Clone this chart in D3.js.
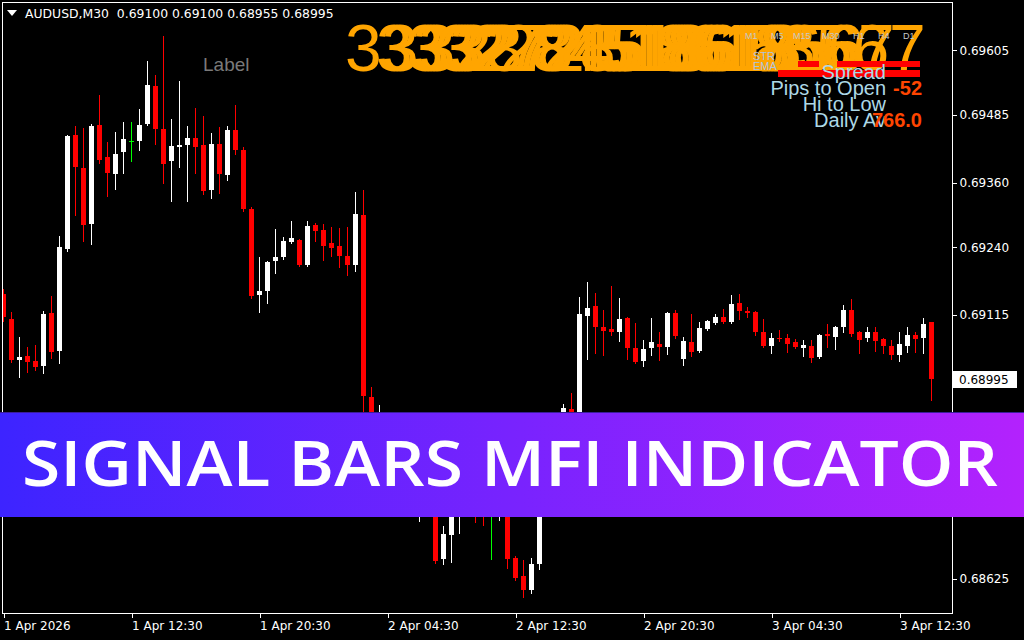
<!DOCTYPE html>
<html>
<head>
<meta charset="utf-8">
<script src="https://cdn.jsdelivr.net/npm/d3@7"></script>
<style>
  html, body { margin: 0; padding: 0; background: #000; }
  svg { display: block; }
</style>
</head>
<body>
<svg id="chart" width="1024" height="640"></svg>
<script>
// AUDUSD M30 bars, one entry per bar from left to right
var opens = [0.69153, 0.69106, 0.69030, 0.69038, 0.69028, 0.69019, 0.69117, 0.69047, 0.69236, 0.69447,
  0.69386, 0.69282, 0.69466, 0.69407, 0.69375, 0.69416, 0.69436, 0.69436, 0.69468, 0.69538,
  0.69458, 0.69399, 0.69425, 0.69429, 0.69442, 0.69429, 0.69345, 0.69431, 0.69373, 0.69457,
  0.69420, 0.69310, 0.69151, 0.69158, 0.69214, 0.69221, 0.69249, 0.69253, 0.69206, 0.69281,
  0.69271, 0.69247, 0.69242, 0.69223, 0.69206, 0.69299, 0.68962, 0.68867, 0.68919, 0.68841,
  0.68793, 0.68826, 0.68748, 0.68780, 0.68752, 0.68661, 0.68706, 0.68752, 0.68808, 0.68785,
  0.68771, 0.68761, 0.68761, 0.68785, 0.68663, 0.68630, 0.68604, 0.68652, 0.68826, 0.68793,
  0.68910, 0.68939, 0.68923, 0.69112, 0.69130, 0.69091, 0.69088, 0.69082, 0.69108, 0.69052,
  0.69028, 0.69052, 0.69060, 0.69054, 0.69117, 0.69032, 0.69064, 0.69047, 0.69088, 0.69099,
  0.69110, 0.69101, 0.69136, 0.69121, 0.69119, 0.69082, 0.69056, 0.69071, 0.69071, 0.69064,
  0.69052, 0.69056, 0.69036, 0.69078, 0.69073, 0.69091, 0.69123, 0.69082, 0.69071, 0.69082,
  0.69069, 0.69056, 0.69039, 0.69056, 0.69077, 0.69071, 0.69100]
var highs = [0.69162, 0.69119, 0.69073, 0.69054, 0.69058, 0.69121, 0.69149, 0.69260, 0.69447, 0.69464,
  0.69460, 0.69468, 0.69522, 0.69434, 0.69453, 0.69472, 0.69472, 0.69496, 0.69585, 0.69559,
  0.69631, 0.69477, 0.69548, 0.69464, 0.69497, 0.69483, 0.69451, 0.69462, 0.69464, 0.69503,
  0.69425, 0.69314, 0.69221, 0.69214, 0.69273, 0.69258, 0.69288, 0.69255, 0.69288, 0.69284,
  0.69282, 0.69277, 0.69275, 0.69277, 0.69342, 0.69345, 0.68980, 0.68947, 0.68930, 0.68854,
  0.68841, 0.68835, 0.68798, 0.68793, 0.68771, 0.68722, 0.68798, 0.68826, 0.68830, 0.68817,
  0.68789, 0.68780, 0.68826, 0.68808, 0.68667, 0.68659, 0.68663, 0.68845, 0.68854, 0.68919,
  0.68949, 0.68969, 0.69147, 0.69175, 0.69155, 0.69123, 0.69167, 0.69145, 0.69110, 0.69099,
  0.69067, 0.69108, 0.69082, 0.69119, 0.69123, 0.69073, 0.69116, 0.69101, 0.69104, 0.69116,
  0.69125, 0.69151, 0.69153, 0.69128, 0.69121, 0.69106, 0.69080, 0.69086, 0.69078, 0.69069,
  0.69067, 0.69067, 0.69078, 0.69097, 0.69093, 0.69132, 0.69143, 0.69084, 0.69091, 0.69091,
  0.69071, 0.69067, 0.69082, 0.69091, 0.69082, 0.69108, 0.69100]
var lows = [0.69102, 0.69026, 0.68999, 0.69008, 0.69012, 0.69006, 0.69034, 0.69025, 0.69232, 0.69299,
  0.69251, 0.69245, 0.69396, 0.69334, 0.69347, 0.69377, 0.69399, 0.69420, 0.69466, 0.69431,
  0.69358, 0.69325, 0.69388, 0.69325, 0.69377, 0.69338, 0.69331, 0.69340, 0.69364, 0.69412,
  0.69307, 0.69145, 0.69119, 0.69136, 0.69192, 0.69217, 0.69247, 0.69205, 0.69205, 0.69251,
  0.69216, 0.69223, 0.69203, 0.69188, 0.69195, 0.68904, 0.68860, 0.68854, 0.68826, 0.68780,
  0.68771, 0.68756, 0.68732, 0.68745, 0.68654, 0.68652, 0.68656, 0.68709, 0.68761, 0.68730,
  0.68724, 0.68661, 0.68734, 0.68645, 0.68622, 0.68591, 0.68598, 0.68643, 0.68780, 0.68785,
  0.68900, 0.68904, 0.68912, 0.69032, 0.69043, 0.69039, 0.69077, 0.69065, 0.69032, 0.69025,
  0.69019, 0.69039, 0.69030, 0.69041, 0.69071, 0.69021, 0.69038, 0.69045, 0.69086, 0.69097,
  0.69099, 0.69099, 0.69106, 0.69110, 0.69077, 0.69054, 0.69043, 0.69065, 0.69045, 0.69052,
  0.69038, 0.69026, 0.69034, 0.69054, 0.69051, 0.69082, 0.69075, 0.69043, 0.69065, 0.69047,
  0.69043, 0.69032, 0.69028, 0.69045, 0.69045, 0.69043, 0.68955]
var closes = [0.69110, 0.69030, 0.69036, 0.69026, 0.69017, 0.69116, 0.69045, 0.69240, 0.69446, 0.69388,
  0.69281, 0.69464, 0.69401, 0.69377, 0.69412, 0.69440, 0.69436, 0.69466, 0.69540, 0.69458,
  0.69394, 0.69427, 0.69429, 0.69442, 0.69425, 0.69344, 0.69431, 0.69375, 0.69457, 0.69420,
  0.69310, 0.69149, 0.69158, 0.69212, 0.69221, 0.69251, 0.69256, 0.69206, 0.69279, 0.69269,
  0.69242, 0.69238, 0.69223, 0.69206, 0.69301, 0.68963, 0.68873, 0.68923, 0.68841, 0.68793,
  0.68826, 0.68771, 0.68780, 0.68752, 0.68658, 0.68708, 0.68780, 0.68808, 0.68785, 0.68771,
  0.68761, 0.68761, 0.68789, 0.68661, 0.68626, 0.68604, 0.68652, 0.68826, 0.68793, 0.68904,
  0.68941, 0.68919, 0.69116, 0.69127, 0.69091, 0.69084, 0.69082, 0.69106, 0.69052, 0.69026,
  0.69051, 0.69064, 0.69054, 0.69117, 0.69075, 0.69065, 0.69045, 0.69090, 0.69103, 0.69110,
  0.69101, 0.69134, 0.69121, 0.69117, 0.69082, 0.69056, 0.69071, 0.69069, 0.69060, 0.69054,
  0.69058, 0.69034, 0.69077, 0.69075, 0.69091, 0.69123, 0.69078, 0.69067, 0.69082, 0.69065,
  0.69056, 0.69039, 0.69060, 0.69077, 0.69069, 0.69097, 0.68995]

var priceTicks = [0.69605, 0.69485, 0.69360, 0.69240, 0.69115, 0.68870, 0.68750, 0.68625]
var timeTickBars = [0, 16, 32, 48, 64, 80, 96, 112]
var timeTickLabels = ['1 Apr 2026', '1 Apr 12:30', '1 Apr 20:30', '2 Apr 04:30',
  '2 Apr 12:30', '2 Apr 20:30', '3 Apr 04:30', '3 Apr 12:30']

var headerText = 'AUDUSD,M30  0.69100 0.69100 0.68955 0.68995'
var lastPrice = 0.68995
var countdownTexts = ['3332', '3333', '3327', '3272', '2728', '2845', '8451', '4518',
  '5186', '1861', '8618', '6185', '1856', '5667', '3567']
var timeframes = ['M1', 'M5', 'M15', 'M30', 'H1', 'H4', 'D1']
var infoLabels = ['Spread', 'Pips to Open', 'Hi to Low', 'Daily Av']
var infoValues = ['', '-52', '', '766.0']
var bannerTitle = 'SIGNAL BARS MFI INDICATOR'

var svg = d3.select('#chart')
svg.append('rect').attr('width', 1024).attr('height', 640).attr('fill', '#000')

var x = d3.scaleLinear().domain([0, opens.length - 1]).range([3, 931])
var y = d3.scaleLinear().domain([0.68561, 0.69692]).range([613, 3])

var defs = svg.append('defs')
defs.append('clipPath').attr('id', 'plotclip')
  .append('rect').attr('x', 3).attr('y', 3).attr('width', 949).attr('height', 610)

var bars = opens.map(function (o, i) {
  return {i: i, o: o, h: highs[i], l: lows[i], c: closes[i]}
})

function barColor (d) {
  if (d.c > d.o) return '#ffffff'
  if (d.c < d.o) return '#ff0000'
  return '#00ff00'
}

var candles = svg.append('g')
  .attr('clip-path', 'url(#plotclip)')
  .attr('shape-rendering', 'crispEdges')

candles.selectAll('line.wick')
  .data(bars)
  .enter().append('line')
  .attr('class', 'wick')
  .attr('x1', function (d) { return x(d.i) + 0.5 })
  .attr('x2', function (d) { return x(d.i) + 0.5 })
  .attr('y1', function (d) { return Math.round(y(d.h)) })
  .attr('y2', function (d) { return Math.round(y(d.l)) + 1 })
  .attr('stroke', barColor)
  .attr('stroke-width', 1)

candles.selectAll('rect.body')
  .data(bars)
  .enter().append('rect')
  .attr('class', 'body')
  .attr('x', function (d) { return x(d.i) - 2 })
  .attr('width', 5)
  .attr('y', function (d) { return Math.round(y(Math.max(d.o, d.c))) })
  .attr('height', function (d) {
    return Math.max(1, Math.round(y(Math.min(d.o, d.c))) - Math.round(y(Math.max(d.o, d.c))))
  })
  .attr('fill', barColor)

// chart frame
svg.append('rect')
  .attr('x', 2.5).attr('y', 2.5)
  .attr('width', 950).attr('height', 611)
  .attr('fill', 'none')
  .attr('stroke', '#ffffff')
  .attr('shape-rendering', 'crispEdges')

var axisFont = '"DejaVu Sans", sans-serif'

var yAxis = svg.append('g')
  .attr('transform', 'translate(952.5,0.5)')
  .call(d3.axisRight(y).tickValues(priceTicks).tickSize(4).tickFormat(d3.format('.5f')))
yAxis.select('.domain').remove()
yAxis.selectAll('line').attr('stroke', '#ffffff').attr('shape-rendering', 'crispEdges')
yAxis.selectAll('text')
  .attr('fill', '#ffffff')
  .attr('x', 7)
  .style('font-family', axisFont)
  .style('font-size', '12px')

var xAxis = svg.append('g')
  .attr('transform', 'translate(0.5,613.5)')
  .call(d3.axisBottom(x).tickValues(timeTickBars).tickSize(4)
    .tickFormat(function (d, i) { return timeTickLabels[i] }))
xAxis.select('.domain').remove()
xAxis.selectAll('line').attr('stroke', '#ffffff').attr('shape-rendering', 'crispEdges')
xAxis.selectAll('text')
  .attr('fill', '#ffffff')
  .attr('text-anchor', 'start')
  .attr('x', 0)
  .attr('y', 8)
  .style('font-family', axisFont)
  .style('font-size', '12px')

// current price box
svg.append('rect')
  .attr('x', 953).attr('y', Math.round(y(lastPrice)) - 8)
  .attr('width', 64).attr('height', 17)
  .attr('fill', '#ffffff')
svg.append('text')
  .attr('x', 959).attr('y', Math.round(y(lastPrice)) + 5)
  .attr('fill', '#000000')
  .style('font-family', axisFont)
  .style('font-size', '12px')
  .text(d3.format('.5f')(lastPrice))

// header
svg.append('path')
  .attr('d', 'M7,10 L17,10 L12,16 Z')
  .attr('fill', '#ffffff')
svg.append('text')
  .attr('x', 25).attr('y', 18)
  .attr('fill', '#ffffff')
  .attr('xml:space', 'preserve')
  .style('white-space', 'pre')
  .style('font-family', axisFont)
  .style('font-size', '12.4px')
  .text(headerText)

svg.append('text')
  .attr('x', 203).attr('y', 71)
  .attr('fill', '#7a7a7a')
  .style('font-family', '"Liberation Sans", Arial, sans-serif')
  .style('font-size', '19px')
  .text('Label')

// overlapping countdown numbers
var cdStart = 345
var cdStep = 31
svg.selectAll('text.countdown')
  .data(countdownTexts)
  .enter().append('text')
  .attr('class', 'countdown')
  .attr('x', function (d, i) { return cdStart + i * cdStep })
  .attr('y', 71)
  .attr('fill', '#ffa500')
  .style('font-family', '"Liberation Sans", Arial, sans-serif')
  .style('font-size', '66px')
  .text(function (d) { return d })

// strength bars
var redBars = [[798, 61, 21, 6], [837, 61, 83, 6], [778, 70, 142, 7]]
svg.selectAll('rect.strength')
  .data(redBars)
  .enter().append('rect')
  .attr('class', 'strength')
  .attr('x', function (d) { return d[0] })
  .attr('y', function (d) { return d[1] })
  .attr('width', function (d) { return d[2] })
  .attr('height', function (d) { return d[3] })
  .attr('fill', '#ff0000')

var tfX = [745, 771, 793, 822, 853, 878, 903]
svg.selectAll('text.tf')
  .data(timeframes)
  .enter().append('text')
  .attr('class', 'tf')
  .attr('x', function (d, i) { return tfX[i] })
  .attr('y', 39)
  .attr('fill', '#c8c8c8')
  .style('font-family', '"Liberation Sans", Arial, sans-serif')
  .style('font-size', '9px')
  .text(function (d) { return d })

svg.selectAll('text.ind')
  .data(['STR', 'EMA'])
  .enter().append('text')
  .attr('class', 'ind')
  .attr('x', 753)
  .attr('y', function (d, i) { return 60 + i * 10 })
  .attr('fill', '#b0c4de')
  .style('font-family', '"Liberation Sans", Arial, sans-serif')
  .style('font-size', '11px')
  .text(function (d) { return d })

// info panel
svg.selectAll('text.info')
  .data(infoLabels)
  .enter().append('text')
  .attr('class', 'info')
  .attr('x', 886)
  .attr('y', function (d, i) { return 79 + i * 16 })
  .attr('text-anchor', 'end')
  .attr('fill', '#add8e6')
  .style('font-family', '"Liberation Sans", Arial, sans-serif')
  .style('font-size', '20px')
  .text(function (d) { return d })

svg.selectAll('text.infoval')
  .data(infoValues)
  .enter().append('text')
  .attr('class', 'infoval')
  .attr('x', 922)
  .attr('y', function (d, i) { return 95 + (i - 1) * 16 })
  .attr('text-anchor', 'end')
  .attr('fill', '#ff4500')
  .style('font-family', '"Liberation Sans", Arial, sans-serif')
  .style('font-size', '20px')
  .style('font-weight', 'bold')
  .text(function (d) { return d })

// banner
var grad = defs.append('linearGradient').attr('id', 'bannergrad')
  .attr('x1', '0%').attr('x2', '100%').attr('y1', '0%').attr('y2', '0%')
grad.append('stop').attr('offset', '0%').attr('stop-color', '#3d24ff')
grad.append('stop').attr('offset', '100%').attr('stop-color', '#b322fd')

svg.append('rect')
  .attr('x', 0).attr('y', 412)
  .attr('width', 1024).attr('height', 105)
  .attr('fill', 'url(#bannergrad)')
svg.append('line')
  .attr('x1', 0).attr('x2', 1024).attr('y1', 412.5).attr('y2', 412.5)
  .attr('stroke', '#3a1c9c')

svg.append('text')
  .attr('x', 22).attr('y', 486)
  .attr('fill', '#ffffff')
  .attr('textLength', 976)
  .attr('lengthAdjust', 'spacingAndGlyphs')
  .style('font-family', '"Open Sans", sans-serif')
  .style('font-weight', 600)
  .style('font-size', '63px')
  .text(bannerTitle)
</script>
</body>
</html>
